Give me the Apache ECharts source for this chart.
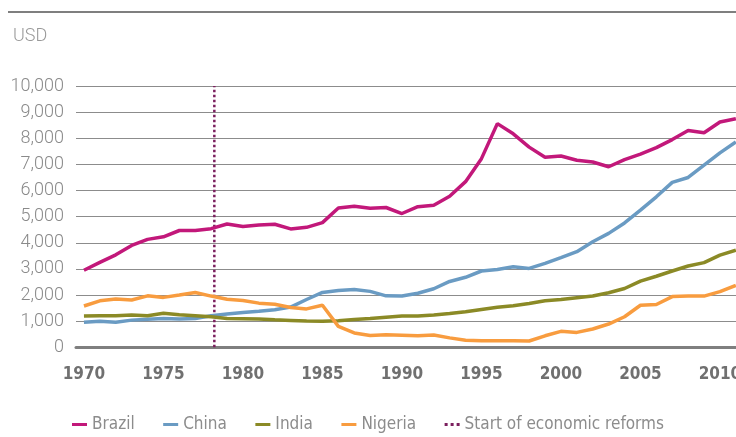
<!DOCTYPE html>
<html>
<head>
<meta charset="utf-8">
<script src="https://cdn.jsdelivr.net/npm/echarts@6/dist/echarts.min.js"></script>
<style>html,body{margin:0;padding:0;background:#fff;}#c{width:736px;height:437px;}</style>
</head>
<body>
<div id="c"></div>
<script>
const years = ['1970','1971','1972','1973','1974','1975','1976','1977','1978','1979',
  '1980','1981','1982','1983','1984','1985','1986','1987','1988','1989',
  '1990','1991','1992','1993','1994','1995','1996','1997','1998','1999',
  '2000','2001','2002','2003','2004','2005','2006','2007','2008','2009',
  '2010','2011'];
const brazil = [2950,3250,3540,3900,4130,4230,4470,4470,4540,4720,
  4620,4680,4710,4530,4590,4770,5330,5400,5320,5350,
  5120,5380,5440,5780,6340,7220,8560,8170,7660,7270,
  7320,7160,7090,6910,7180,7390,7640,7950,8300,8210,
  8620,8750];
const china = [960,1000,960,1040,1070,1100,1080,1100,1210,1270,
  1330,1380,1440,1540,1830,2100,2170,2210,2140,1970,
  1960,2070,2240,2520,2680,2920,2980,3080,3020,3210,
  3430,3660,4040,4360,4760,5250,5760,6310,6500,6970,
  7440,7860];
const india = [1200,1210,1210,1240,1210,1300,1250,1210,1170,1100,
  1090,1080,1050,1030,1010,1000,1020,1060,1100,1150,
  1200,1200,1240,1290,1360,1450,1530,1590,1680,1780,
  1830,1900,1960,2090,2250,2530,2720,2920,3110,3240,
  3530,3720];
const nigeria = [1580,1780,1850,1810,1970,1910,2000,2100,1960,1840,
  1790,1690,1650,1520,1470,1610,800,550,450,480,
  460,440,470,360,270,250,255,255,240,440,
  610,570,700,890,1170,1610,1640,1940,1960,1960,
  2130,2370];
const reformYear = 1978.2;
const reformLine = [[reformYear, 0], [reformYear, 10000]];
const yMin = 0, yMax = 10000, yStep = 1000;

const condensed = '"DejaVu Sans Condensed", Roboto, sans-serif';
const chart = echarts.init(document.getElementById('c'), null, {renderer: 'canvas'});
const fmt = v => String(v).replace(/\B(?=(\d{3})+(?!\d))/g, ',');
const lineSeries = (name, data, color) => ({
  name, type: 'line', data, color, symbol: 'none', smooth: false,
  lineStyle: {color, width: 3.5}, itemStyle: {color}
});
chart.setOption({
  animation: false,
  backgroundColor: '#fff',
  title: {
    text: 'USD', left: 8, top: 22,
    textStyle: {fontFamily: 'Roboto', fontWeight: 300, fontSize: 18, color: '#999'}
  },
  graphic: [{
    type: 'line', shape: {x1: 8, y1: 12, x2: 736, y2: 12},
    style: {stroke: '#7f7f7f', lineWidth: 2}
  }],
  grid: {left: 76, right: -7.8, top: 86, bottom: 89.7, containLabel: false, outerBoundsMode: 'none'},
  xAxis: [{
    type: 'category', data: years, boundaryGap: true,
    axisTick: {show: false},
    axisLine: {lineStyle: {color: '#7f7f7f', width: 3}},
    axisLabel: {interval: 4, margin: 19, color: '#707070', fontFamily: condensed,
      fontWeight: 'bold', fontSize: 17},
    splitLine: {show: false}
  }, {
    type: 'value', min: 1969.5, max: 2011.5, show: false
  }],
  yAxis: {
    type: 'value', min: yMin, max: yMax, interval: yStep,
    axisLine: {show: false}, axisTick: {show: false},
    axisLabel: {margin: 12, formatter: fmt, color: '#8a8a8a', fontFamily: 'Roboto', fontWeight: 300, fontSize: 18},
    splitLine: {lineStyle: {color: '#8c8c8c', width: 1.2}}
  },
  legend: {
    left: 67, top: 411, itemWidth: 15, itemHeight: 3, itemGap: 28.5,
    textStyle: {fontFamily: condensed, fontSize: 17, color: '#8c8c8c'},
    data: [
      {name: 'Brazil', icon: 'rect'},
      {name: 'China', icon: 'rect'},
      {name: 'India', icon: 'rect'},
      {name: 'Nigeria', icon: 'rect'},
      {name: 'Start of economic reforms', icon: 'path://M0,0h3v3h-3z M6,0h3v3h-3z M12,0h3v3h-3z'}
    ]
  },
  series: [
    lineSeries('Brazil', brazil, '#c2187a'),
    lineSeries('China', china, '#6a9bc3'),
    lineSeries('India', india, '#8b8a26'),
    lineSeries('Nigeria', nigeria, '#f89c3f'),
    {
      name: 'Start of economic reforms', type: 'line', xAxisIndex: 1, yAxisIndex: 0,
      data: reformLine, symbol: 'none', color: '#7b1f5e',
      lineStyle: {color: '#7b1f5e', width: 2.5, type: [2.5, 2.5]},
      itemStyle: {color: '#7b1f5e'}, z: 1
    }
  ]
});
</script>
</body>
</html>
